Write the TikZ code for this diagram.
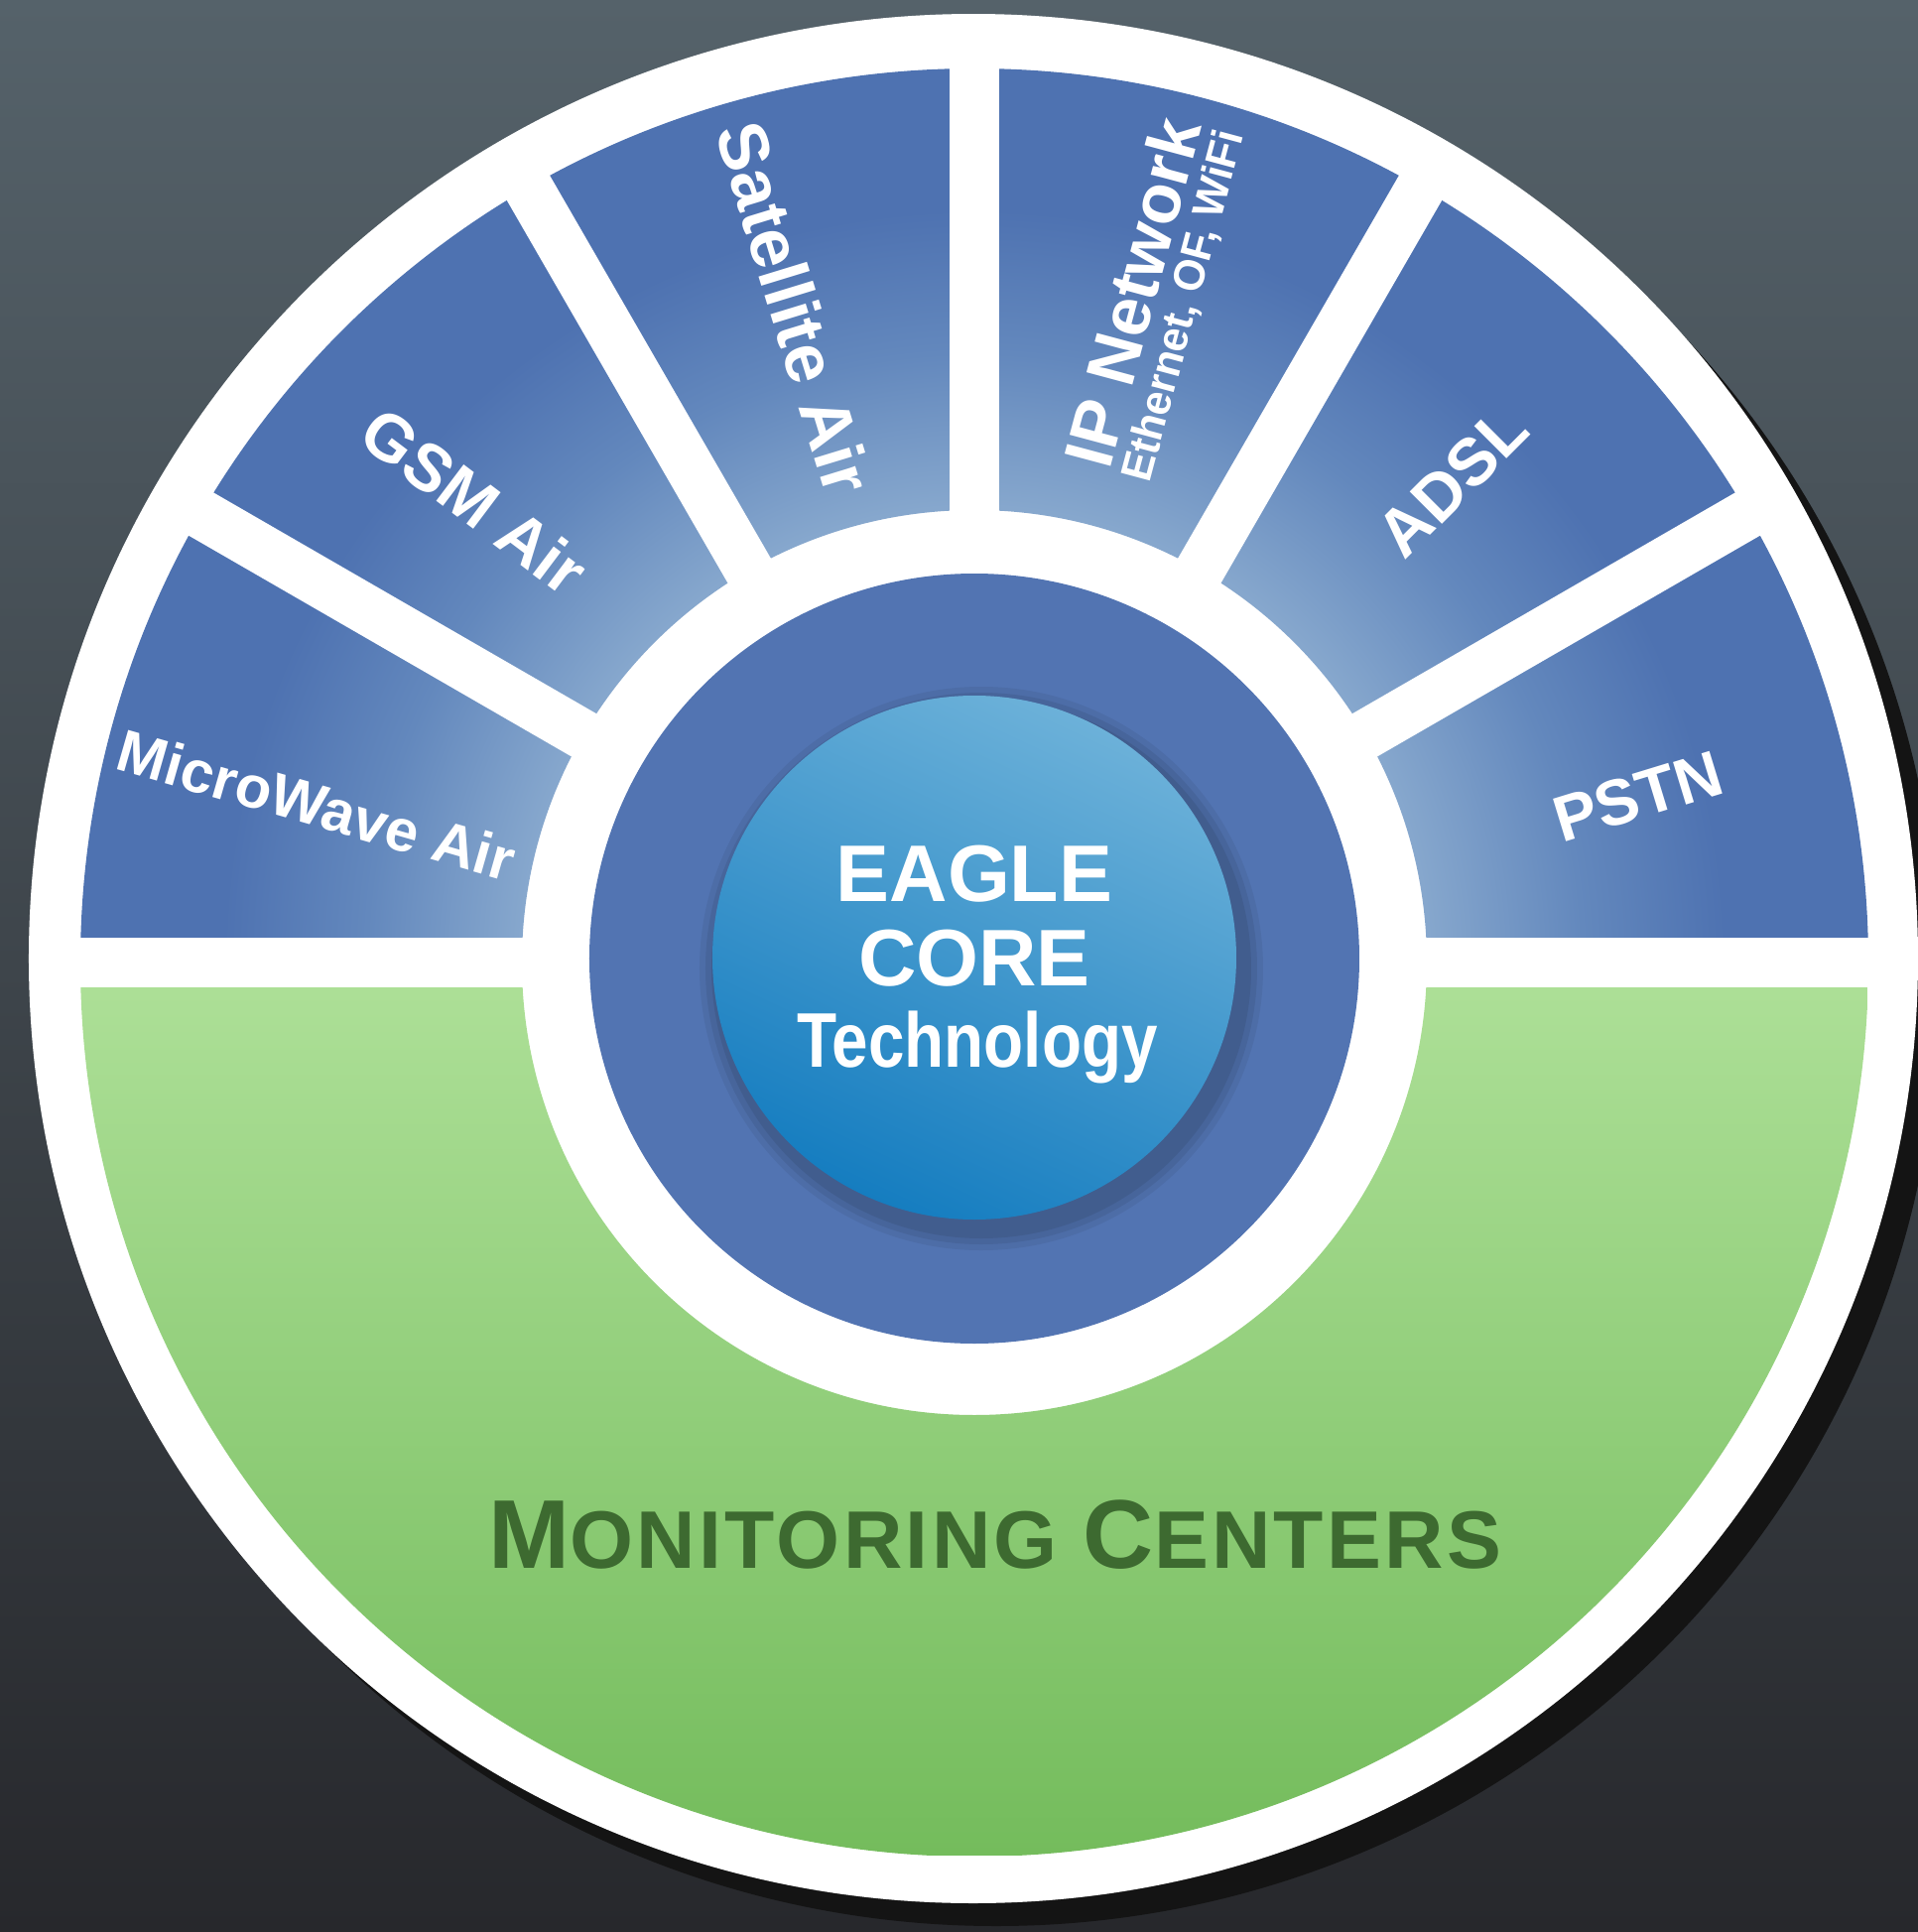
\documentclass[tikz,border=0pt]{standalone}
\usepackage{fontspec}
\setmainfont{Liberation Sans}
\usepackage{graphicx}
\definecolor{bgtop}{HTML}{55626A}
\definecolor{bgmid}{HTML}{3A4044}
\definecolor{bgbot}{HTML}{27282C}
\definecolor{segd}{HTML}{4E72B1}
\definecolor{segm}{HTML}{6388BD}
\definecolor{segl}{HTML}{86A7CD}
\definecolor{ringblue}{HTML}{5274B2}
\definecolor{greenT}{HTML}{AEE098}
\definecolor{greenB}{HTML}{74BC5C}
\definecolor{mctext}{HTML}{3D6A30}
\definecolor{coreT}{HTML}{6CB1D9}
\definecolor{coreB}{HTML}{157DC0}
\pgfdeclareradialshading{segshade}{\pgfpoint{0bp}{0bp}}{color(0bp)=(segl); color(12.7bp)=(segl); color(17bp)=(segm); color(21bp)=(segd); color(50bp)=(segd)}
\tikzset{
  gapline/.style={white, line width=0.5cm},
  lbl/.style={text=white, inner sep=0pt},
  corelbl/.style={text=white, inner sep=0pt, anchor=base},
}
\begin{document}
\begin{tikzpicture}[x=0.01cm, y=0.01cm]
\useasboundingbox (-982,-979) rectangle (951,968);
% background
\shade[top color=bgtop, middle color=bgmid, bottom color=bgbot] (-982,-979) rectangle (951,968);
% shadow and white disc
\fill[black!92] (22,-22) circle (951);
\fill[white] (-1,2) circle (952);
% blue upper segments
\begin{scope}
  \clip (901,-2) arc (0:180:901) -- (-456,-2) arc (180:0:456) -- cycle;
  \shade[shading=segshade] (0,0) circle (901);
\end{scope}
% green lower part
\begin{scope}
  \clip (901,-2) arc (0:-180:901) -- (-456,-2) arc (-180:0:456) -- cycle;
  \shade[top color=greenT, bottom color=greenB] (-901,-901) rectangle (901,-2);
\end{scope}
% separators
\draw[gapline] (-930,-2) -- (930,-2);
\foreach \a in {30,60,90,120,150} {
  \draw[gapline] (0,0) -- (\a:930);
}
% dark ring
\fill[ringblue] (0,2) circle (388);
% soft core shadow and core
\foreach \r/\o in {284/0.06, 278/0.07, 272/0.08} {
  \fill[black, opacity=\o] (7,-8) circle (\r);
}
\shade[top color=coreT, bottom color=coreB, shading angle=-25] (0,3) circle (264);
% core text
\node[corelbl, font=\bfseries\fontsize{23}{23}\selectfont] (eagle) at (0,60) {EAGLE};
\node[corelbl, font=\bfseries\fontsize{23}{23}\selectfont] (core) at (0,-25) {CORE};
\node[corelbl, font=\bfseries\fontsize{22.2}{22}\selectfont] (tech) at (3,-107) {\scalebox{0.84}[1]{Technology}};
% segment labels
\node[lbl, rotate=-16, font=\bfseries\fontsize{17}{17}\selectfont] (mw) at (166.7:681) {MicroWave Air};
\node[lbl, rotate=-37, font=\bfseries\fontsize{19}{19}\selectfont] (gsm) at (137.4:684) {GSM Air};
\node[lbl, rotate=-73, font=\bfseries\fontsize{20}{20}\selectfont] (sat) at (105.4:682) {Satellite Air};
\node[lbl, rotate=75, align=center, font=\bfseries\fontsize{12.5}{12}\selectfont] (ip) at (74.7:692)
  {{\fontsize{19.8}{12}\selectfont IP Network}\\{\scalebox{0.97}[1]{Ethernet, OF, WiFi}}};
\node[lbl, rotate=45, font=\bfseries\fontsize{19}{19}\selectfont] (adsl) at (482,483) {ADSL};
\node[lbl, rotate=17, font=\bfseries\fontsize{18.5}{18}\selectfont] (pstn) at (13.9:689) {PSTN};
% monitoring centers
\node[anchor=base, inner sep=0pt, text=mctext, font=\bfseries\addfontfeatures{LetterSpace=4}] (mc) at (21,-612)
  {\fontsize{28}{30}\selectfont M\fontsize{23.4}{30}\selectfont ONITORING \fontsize{28}{30}\selectfont C\fontsize{23.4}{30}\selectfont ENTERS};
\end{tikzpicture}
\end{document}
